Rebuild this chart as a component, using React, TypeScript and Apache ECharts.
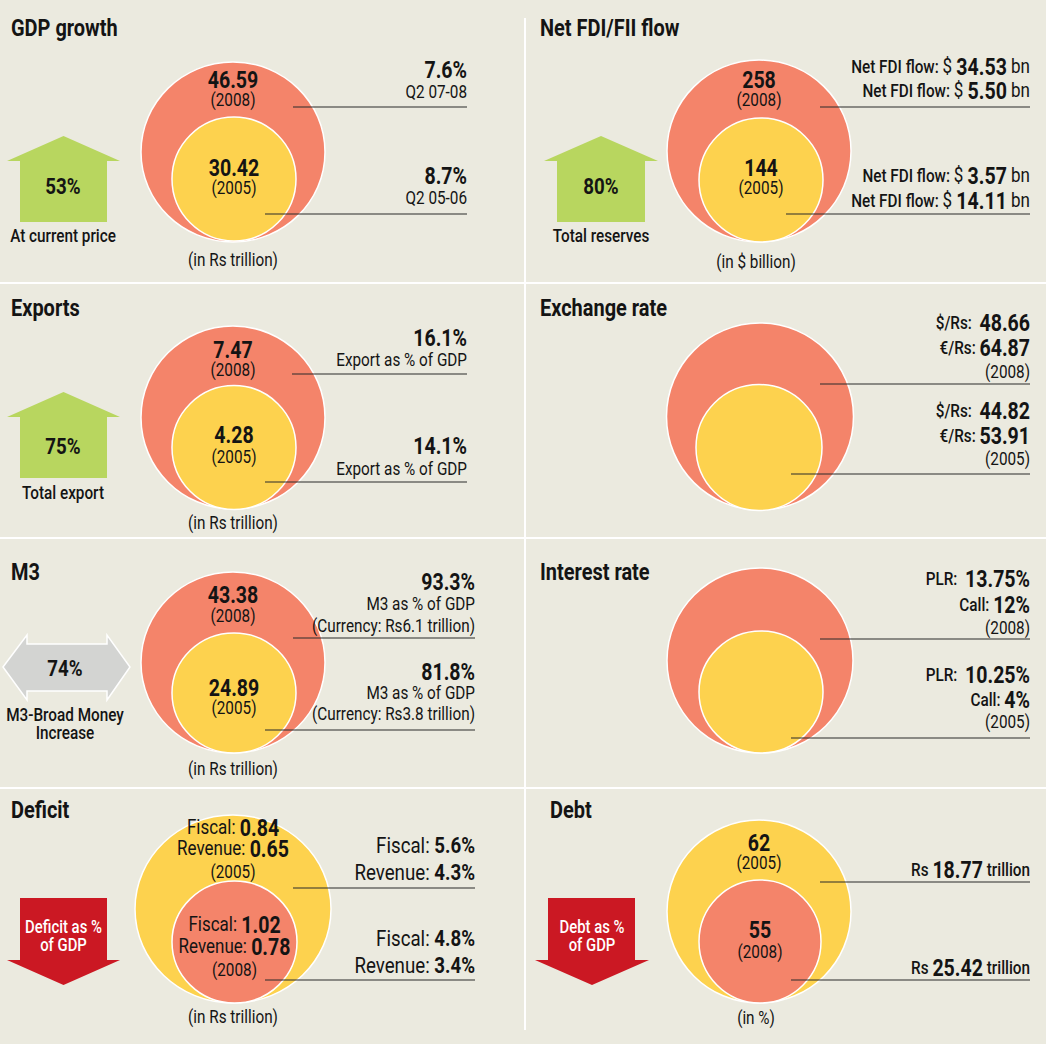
import React, { useEffect, useRef } from "react";
import * as echarts from "echarts";

// ---------- DATA ----------
const titles = ["GDP growth", "Net FDI/FII flow", "Exports", "Exchange rate", "M3", "Interest rate", "Deficit", "Debt"];
const changePct = ["53%", "80%", "75%", "", "74%", "", "", ""];
const changeLabel = [["At current price"], ["Total reserves"], ["Total export"], [], ["M3-Broad Money", "Increase"], [], ["Deficit as %", "of GDP"], ["Debt as %", "of GDP"]];
const outerValue = ["46.59", "258", "7.47", "", "43.38", "", "", "62"];
const innerValue = ["30.42", "144", "4.28", "", "24.89", "", "", "55"];
const outerYear = ["(2008)", "(2008)", "(2008)", "", "(2008)", "", "(2005)", "(2005)"];
const innerYear = ["(2005)", "(2005)", "(2005)", "", "(2005)", "", "(2008)", "(2008)"];
const units = ["(in Rs trillion)", "(in $ billion)", "(in Rs trillion)", "", "(in Rs trillion)", "", "(in Rs trillion)", "(in %)"];
const deficitOuter = [["Fiscal:", "0.84"], ["Revenue:", "0.65"]];
const deficitInner = [["Fiscal:", "1.02"], ["Revenue:", "0.78"]];

type Seg = [string, string];
const notesUpper: Seg[][][] = [
  [[["b", "7.6%"]], [["r", "Q2 07-08"]]],
  [[["m", "Net FDI flow: "], ["rl", "$ "], ["b", "34.53"], ["rl", " bn"]], [["m", "Net FDI flow: "], ["rl", "$ "], ["b", "5.50"], ["rl", " bn"]]],
  [[["b", "16.1%"]], [["r", "Export as % of GDP"]]],
  [[["m", "$/Rs:  "], ["b", "48.66"]], [["m", "€/Rs: "], ["b", "64.87"]], [["r", "(2008)"]]],
  [[["b", "93.3%"]], [["r", "M3 as % of GDP"]], [["r", "(Currency: Rs6.1 trillion)"]]],
  [[["m", "PLR:  "], ["b", "13.75%"]], [["m", "Call: "], ["b", "12%"]], [["r", "(2008)"]]],
  [[["L", "Fiscal: "], ["B", "5.6%"]], [["L", "Revenue: "], ["B", "4.3%"]]],
  [[["m", "Rs "], ["b", "18.77"], ["m", " trillion"]]],
];
const notesLower: Seg[][][] = [
  [[["b", "8.7%"]], [["r", "Q2 05-06"]]],
  [[["m", "Net FDI flow: "], ["rl", "$ "], ["b", "3.57"], ["rl", " bn"]], [["m", "Net FDI flow: "], ["rl", "$ "], ["b", "14.11"], ["rl", " bn"]]],
  [[["b", "14.1%"]], [["r", "Export as % of GDP"]]],
  [[["m", "$/Rs:  "], ["b", "44.82"]], [["m", "€/Rs: "], ["b", "53.91"]], [["r", "(2005)"]]],
  [[["b", "81.8%"]], [["r", "M3 as % of GDP"]], [["r", "(Currency: Rs3.8 trillion)"]]],
  [[["m", "PLR:  "], ["b", "10.25%"]], [["m", "Call: "], ["b", "4%"]], [["r", "(2005)"]]],
  [[["L", "Fiscal: "], ["B", "4.8%"]], [["L", "Revenue: "], ["B", "3.4%"]]],
  [[["m", "Rs "], ["b", "25.42"], ["m", " trillion"]]],
];

// ---------- LAYOUT & STYLE ----------
const BG = "#EBEADF";
const ORANGE = "#F4846A";
const YELLOW = "#FDD24E";
const GREEN = "#B8D65F";
const RED = "#CB1823";
const GREY = "#D3D4D2";
const INK = "#141414";
const FONT = 'Roboto, "Liberation Sans", sans-serif';
const SQUEEZE = 0.85;
const REG_SIZE = 18;

const RICH: any = {
  b: { fontFamily: FONT, fontWeight: "bold", fontSize: 23, fill: INK },
  B: { fontFamily: FONT, fontWeight: "bold", fontSize: 22, fill: INK },
  m: { fontFamily: FONT, fontWeight: 500, fontSize: 18, fill: INK },
  L: { fontFamily: FONT, fontWeight: "normal", fontSize: 22, fill: INK },
  Lc: { fontFamily: FONT, fontWeight: "normal", fontSize: 20, fill: INK },
  Bc: { fontFamily: FONT, fontWeight: "bold", fontSize: 23, fill: INK },
  r: { fontFamily: FONT, fontWeight: "normal", fontSize: REG_SIZE, fill: INK },
  rl: { fontFamily: FONT, fontWeight: "normal", fontSize: 20, fill: INK },
};

// outer/inner: [cx, cy, rx, ry]
const layout = [
  { title: [11, 28], outer: [233, 152, 92, 90], inner: [234, 179, 62, 62], outerOrange: true, vals: [80, 100, 168, 188], unit: [233, 260],
    noteX: 467, upY: [70, 92], upLine: [293, 107], loY: [176, 198], loLine: [265, 214],
    arrow: { kind: "up", x0: 7, x1: 120, s0: 20, s1: 107, apex: 136, base: 161, end: 222 }, pct: [63, 186], labY: [236] },
  { title: [540, 28], outer: [759, 151, 92, 91], inner: [761, 180, 62, 62], outerOrange: true, vals: [80, 100, 168, 188], unit: [756, 262],
    noteX: 1030, upY: [67, 91], upLine: [820, 107], loY: [176, 201], loLine: [786, 214],
    arrow: { kind: "up", x0: 544, x1: 658, s0: 557, s1: 645, apex: 136, base: 161, end: 222 }, pct: [601, 186], labY: [236] },
  { title: [11, 308], outer: [233, 417.5, 92, 91.5], inner: [234, 447.5, 62, 62], outerOrange: true, vals: [350, 370, 435, 457], unit: [233, 523],
    noteX: 467, upY: [338, 360], upLine: [292, 374], loY: [446, 469], loLine: [265, 482],
    arrow: { kind: "up", x0: 7, x1: 120, s0: 20, s1: 107, apex: 392, base: 417, end: 478 }, pct: [63, 446], labY: [493] },
  { title: [540, 308], outer: [760, 416.5, 93.5, 93.5], inner: [759, 447.5, 63, 63], outerOrange: true, vals: null, unit: null,
    noteX: 1030, upY: [323, 348, 372], upLine: [820, 384], loY: [411, 436, 459], loLine: [791, 474], arrow: null, pct: null, labY: [] },
  { title: [11, 572], outer: [233, 662.5, 92, 90.5], inner: [234, 693, 62, 60], outerOrange: true, vals: [595, 616, 688, 708], unit: [233, 769],
    noteX: 475, upY: [582, 604, 626], upLine: [293, 638], loY: [672, 693, 714], loLine: [265, 730],
    arrow: { kind: "both" }, pct: [65, 668], labY: [715, 733] },
  { title: [540, 572], outer: [760, 660.5, 93, 92.5], inner: [761, 692, 62, 61], outerOrange: true, vals: null, unit: null,
    noteX: 1030, upY: [579, 605, 628], upLine: [820, 639], loY: [675, 700, 722], loLine: [791, 738], arrow: null, pct: null, labY: [] },
  { title: [11, 810], outer: [233, 909, 98, 94], inner: [234.5, 942, 62.5, 61], outerOrange: false, vals: [828, 849, 872, 925, 947, 970], unit: [233, 1017],
    noteX: 475, upY: [845, 872], upLine: [293, 888], loY: [938, 965], loLine: [265, 980],
    arrow: { kind: "down", x0: 7, x1: 120, s0: 20, s1: 107, top: 898, base: 960, tip: 985 }, pct: null, labY: [927, 945] },
  { title: [550, 810], outer: [759, 911.5, 92, 91.5], inner: [760, 941.5, 61, 61.5], outerOrange: false, vals: [843, 863, 930, 952], unit: [756, 1018],
    noteX: 1030, upY: [870], upLine: [820, 882], loY: [968], loLine: [791, 980],
    arrow: { kind: "down", x0: 535, x1: 649, s0: 548, s1: 635, top: 898, base: 960, tip: 985 }, pct: null, labY: [927, 945] },
];

function richText(line: Seg[]) {
  return line.map(([s, t]) => `{${s}|${t}}`).join("");
}

function txt(x: number, y: number, text: string, opts: any = {}) {
  return {
    type: "text",
    x,
    y,
    scaleX: opts.scaleX || SQUEEZE,
    z: 30,
    silent: true,
    style: {
      x: 0,
      y: 0,
      text,
      align: opts.align || "center",
      verticalAlign: "middle",
      fontFamily: FONT,
      fontSize: opts.fontSize || REG_SIZE,
      fontWeight: opts.fontWeight || "normal",
      fill: opts.fill || INK,
      rich: opts.rich,
    },
  };
}

function build() {
  const els: any[] = [];
  els.push({ type: "rect", z: 1, shape: { x: 524, y: 18, width: 2, height: 1012 }, style: { fill: "#FFFFFF" } });
  [282, 537, 787].forEach((y) => els.push({ type: "rect", z: 1, shape: { x: 0, y, width: 1046, height: 2 }, style: { fill: "#FFFFFF" } }));

  layout.forEach((L: any, i: number) => {
    els.push(txt(L.title[0], L.title[1], titles[i], { align: "left", fontSize: 23.5, fontWeight: "bold" }));

    const [ocx, ocy, orx, ory] = L.outer;
    const [icx, icy, irx, iry] = L.inner;
    els.push({ type: "ellipse", z: 5, shape: { cx: ocx, cy: ocy, rx: orx, ry: ory }, style: { fill: L.outerOrange ? ORANGE : YELLOW, stroke: "#FFFFFF", lineWidth: 1.5 } });
    els.push({ type: "ellipse", z: 6, shape: { cx: icx, cy: icy, rx: irx, ry: iry }, style: { fill: L.outerOrange ? YELLOW : ORANGE, stroke: "#FFFFFF", lineWidth: 1.5 } });

    els.push({ type: "line", z: 10, shape: { x1: L.upLine[0], y1: L.upLine[1], x2: L.noteX, y2: L.upLine[1] }, style: { stroke: "#2B2B2B", lineWidth: 1.2 } });
    els.push({ type: "line", z: 10, shape: { x1: L.loLine[0], y1: L.loLine[1], x2: L.noteX, y2: L.loLine[1] }, style: { stroke: "#2B2B2B", lineWidth: 1.2 } });

    notesUpper[i].forEach((line, k) => els.push(txt(L.noteX, L.upY[k], richText(line), { align: "right", rich: RICH })));
    notesLower[i].forEach((line, k) => els.push(txt(L.noteX, L.loY[k], richText(line), { align: "right", rich: RICH })));

    if (L.vals) {
      if (i === 6) {
        deficitOuter.forEach((p, k) => els.push(txt(ocx, L.vals[k], `{Lc|${p[0]} }{Bc|${p[1]}}`, { rich: RICH })));
        els.push(txt(ocx, L.vals[2], outerYear[i]));
        deficitInner.forEach((p, k) => els.push(txt(icx, L.vals[3 + k], `{Lc|${p[0]} }{Bc|${p[1]}}`, { rich: RICH })));
        els.push(txt(icx, L.vals[5], innerYear[i]));
      } else {
        els.push(txt(ocx, L.vals[0], outerValue[i], { fontSize: 23, fontWeight: "bold" }));
        els.push(txt(ocx, L.vals[1], outerYear[i]));
        els.push(txt(icx, L.vals[2], innerValue[i], { fontSize: 23, fontWeight: "bold" }));
        els.push(txt(icx, L.vals[3], innerYear[i]));
      }
    }
    if (L.unit) els.push(txt(L.unit[0], L.unit[1], units[i]));

    const A = L.arrow;
    if (A) {
      let pts: number[][] = [];
      let fill = GREEN;
      let cx = 63;
      if (A.kind === "up") {
        cx = (A.x0 + A.x1) / 2;
        pts = [[A.x0, A.base], [cx, A.apex], [A.x1, A.base], [A.s1, A.base], [A.s1, A.end], [A.s0, A.end], [A.s0, A.base]];
      } else if (A.kind === "down") {
        fill = RED;
        cx = (A.x0 + A.x1) / 2;
        pts = [[A.s0, A.top], [A.s1, A.top], [A.s1, A.base], [A.x1, A.base], [cx, A.tip], [A.x0, A.base], [A.s0, A.base]];
      } else {
        fill = GREY;
        cx = 66;
        pts = [[3, 667], [27, 635], [27, 644], [107, 644], [107, 635], [130, 667], [107, 700], [107, 691], [27, 691], [27, 700]];
      }
      els.push({ type: "polygon", z: 5, shape: { points: pts }, style: { fill, stroke: A.kind === "both" ? "#FFFFFF" : undefined, lineWidth: A.kind === "both" ? 1.5 : 0 } });
      if (L.pct && changePct[i]) els.push(txt(L.pct[0], L.pct[1], changePct[i], { fontSize: 22, fontWeight: "bold" }));
      changeLabel[i].forEach((t, k) =>
        els.push(
          txt(A.kind === "down" ? cx : L.pct[0], L.labY[k], t, {
            fontSize: A.kind === "down" ? 17.5 : 18,
            fontWeight: 500,
            fill: A.kind === "down" ? "#FFFFFF" : INK,
          })
        )
      );
    }
  });
  return els;
}

export default function App() {
  const ref = useRef<HTMLDivElement>(null);
  useEffect(() => {
    const chart = echarts.init(ref.current!, null, { renderer: "svg" });
    chart.setOption({ animation: false, backgroundColor: BG, graphic: build() });
    return () => chart.dispose();
  }, []);
  return <div ref={ref} style={{ position: "absolute", left: 0, top: 0, width: 1046, height: 1044 }} />;
}
